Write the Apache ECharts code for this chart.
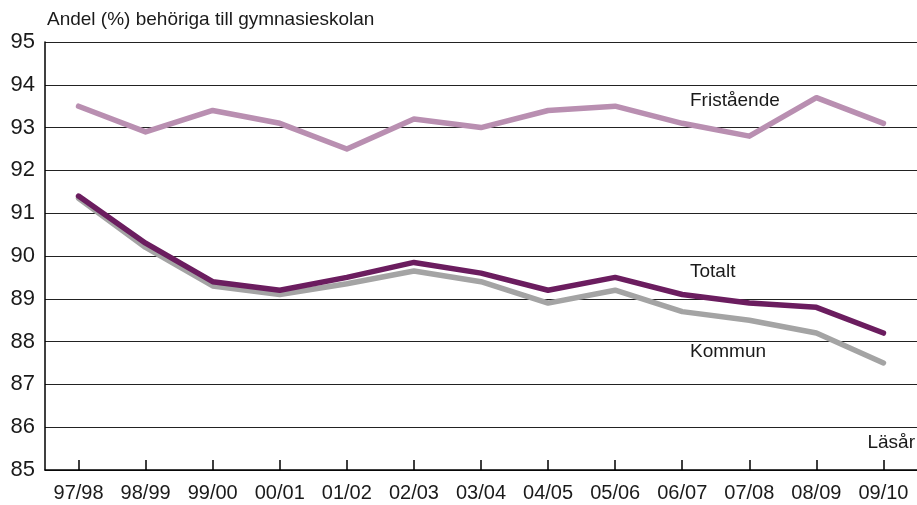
<!DOCTYPE html>
<html>
<head>
<meta charset="utf-8">
<script src="https://cdn.jsdelivr.net/npm/echarts@6/dist/echarts.min.js"></script>
<style>
  html, body { margin: 0; padding: 0; background: #fff; }
  #chart { width: 917px; height: 505px; }
</style>
</head>
<body>
<div id="chart"></div>
<script>
const years = ['97/98', '98/99', '99/00', '00/01', '01/02', '02/03', '03/04', '04/05', '05/06', '06/07', '07/08', '08/09', '09/10']
const fristaende = [93.5, 92.9, 93.4, 93.1, 92.5, 93.2, 93.0, 93.4, 93.5, 93.1, 92.8, 93.7, 93.1]
const totalt = [91.4, 90.3, 89.4, 89.2, 89.5, 89.85, 89.6, 89.2, 89.5, 89.1, 88.9, 88.8, 88.2]
const kommun = [91.35, 90.2, 89.3, 89.1, 89.35, 89.65, 89.4, 88.9, 89.2, 88.7, 88.5, 88.2, 87.5]

const font = '"Liberation Sans", Arial, sans-serif'
const chart = echarts.init(document.getElementById('chart'))

const lineSeries = (name, data, color) => ({
  name: name,
  type: 'line',
  data: data,
  symbol: 'none',
  animation: false,
  lineStyle: { color: color, width: 5.5, cap: 'round', join: 'round' }
})

chart.setOption({
  animation: false,
  grid: { left: 45, top: 42, width: 875, bottom: 35 },
  xAxis: {
    type: 'category',
    data: years,
    boundaryGap: true,
    axisLine: { lineStyle: { color: '#000', width: 1.5 } },
    axisTick: { show: true, interval: 0, alignWithLabel: true, inside: true, length: 10, lineStyle: { color: '#000', width: 1.5 } },
    axisLabel: { color: '#1a1a1a', fontSize: 20, fontFamily: font, margin: 13 }
  },
  yAxis: {
    type: 'value',
    min: 85,
    max: 95,
    interval: 1,
    axisLine: { show: true, lineStyle: { color: '#000', width: 1.5 } },
    axisTick: { show: false },
    axisLabel: { color: '#1a1a1a', fontSize: 22, fontFamily: font, margin: 10 },
    splitLine: { lineStyle: { color: '#222', width: 1.2 } }
  },
  graphic: [
    { type: 'text', left: 47, top: 10, style: { text: 'Andel (%) behöriga till gymnasieskolan', font: '19px ' + font, fill: '#1a1a1a' } },
    { type: 'text', left: 690, top: 91, style: { text: 'Fristående', font: '19px ' + font, fill: '#1a1a1a' } },
    { type: 'text', left: 690, top: 262, style: { text: 'Totalt', font: '19px ' + font, fill: '#1a1a1a' } },
    { type: 'text', left: 690, top: 342, style: { text: 'Kommun', font: '19px ' + font, fill: '#1a1a1a' } },
    { type: 'text', right: 2, top: 433, style: { text: 'Läsår', font: '19px ' + font, fill: '#1a1a1a' } }
  ],
  series: [
    lineSeries('Fristående', fristaende, '#b98fb1'),
    lineSeries('Kommun', kommun, '#a4a4a4'),
    lineSeries('Totalt', totalt, '#6b1d5f')
  ]
})
</script>
</body>
</html>
